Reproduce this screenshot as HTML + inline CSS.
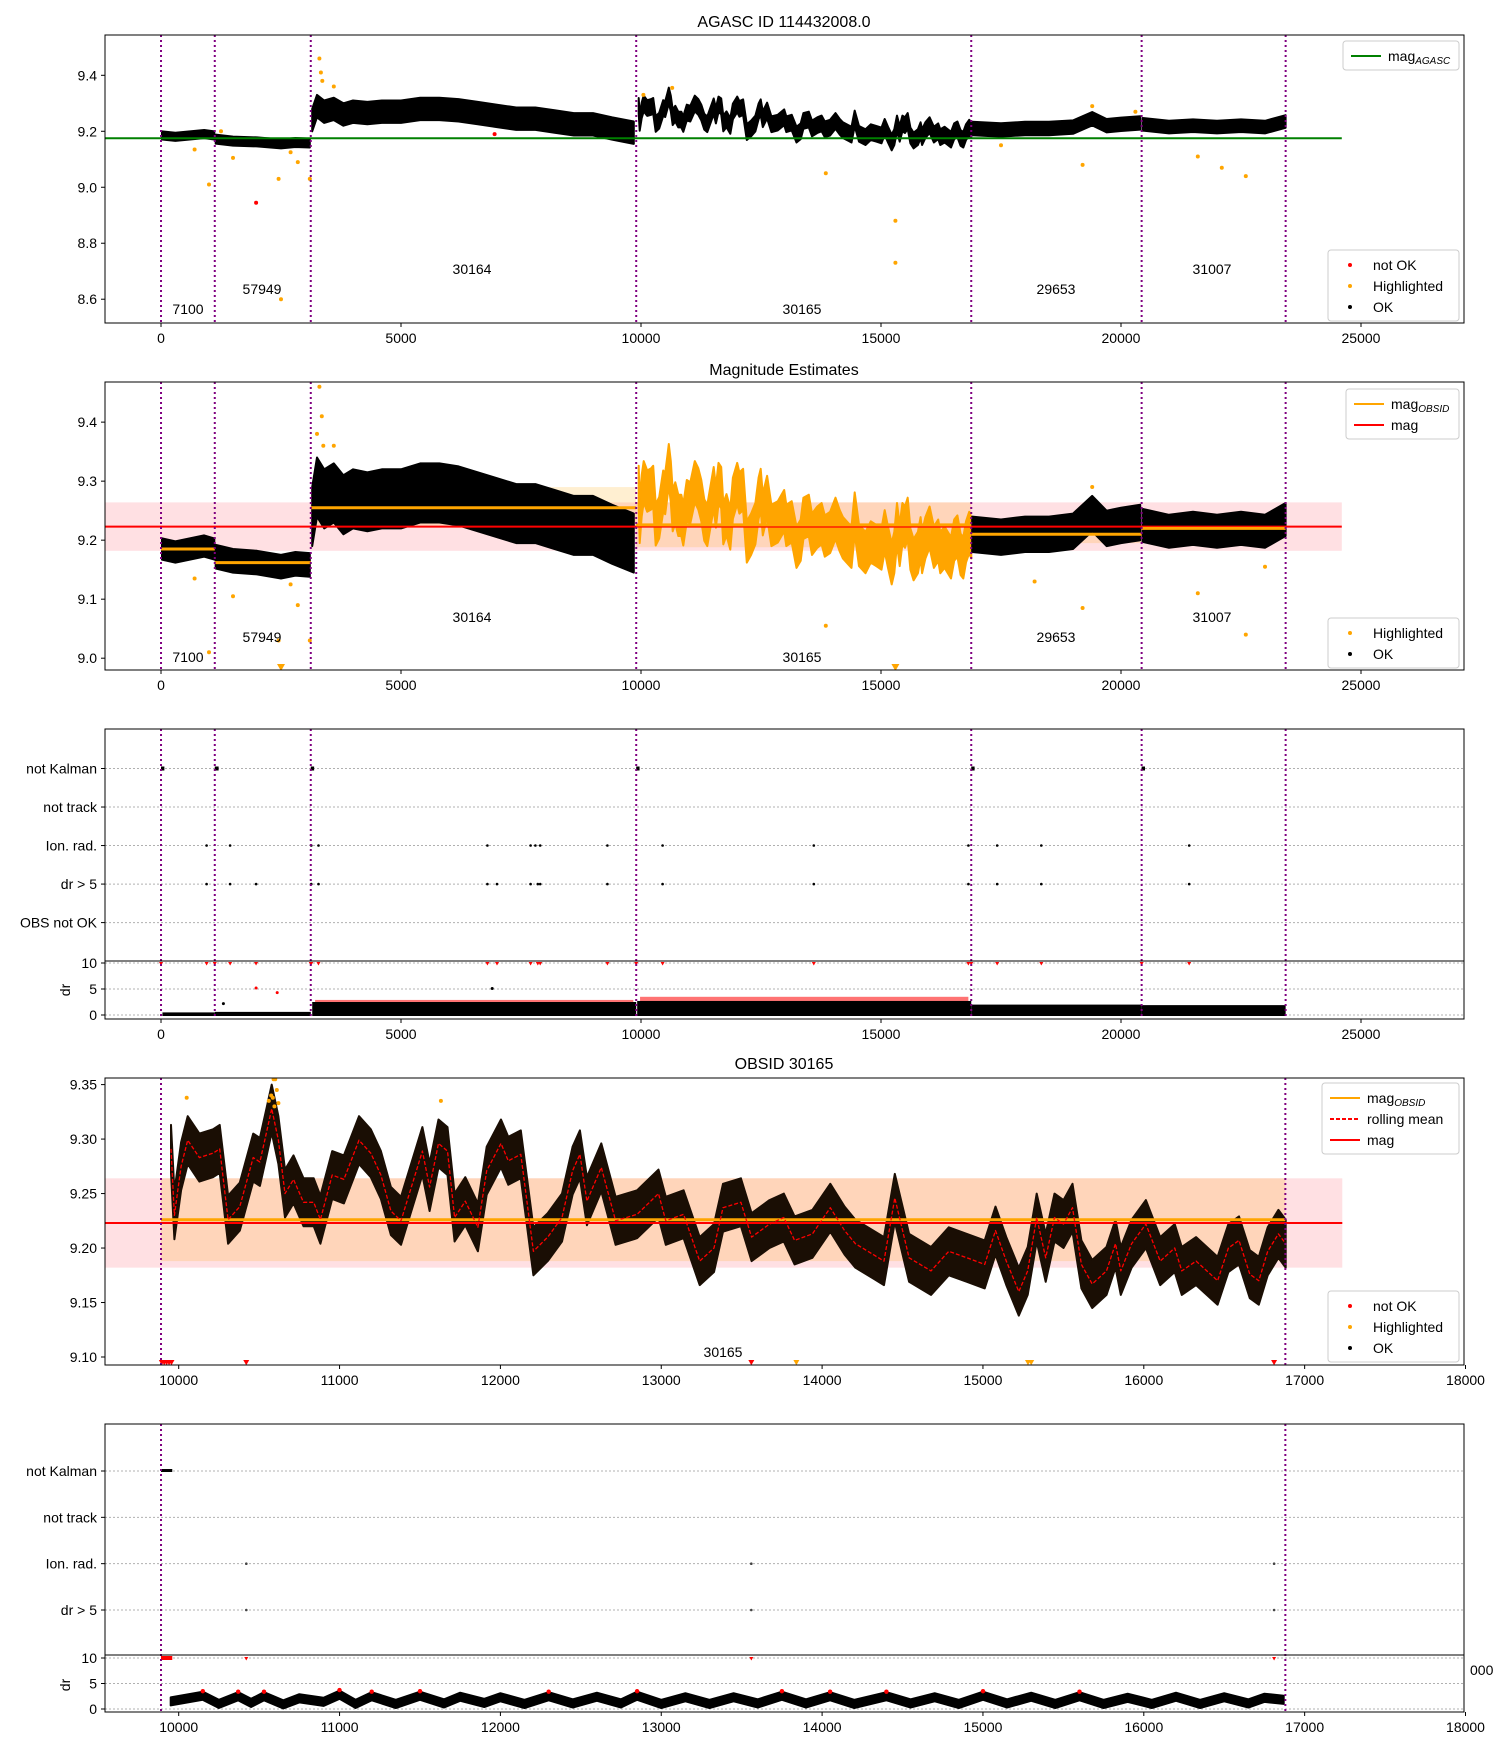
<!DOCTYPE html>
<html><head><meta charset="utf-8"><style>
html,body{margin:0;padding:0;background:#fff;}
svg{display:block;font-family:"Liberation Sans","DejaVu Sans",sans-serif;}
</style></head><body>
<svg id="chart" width="1500" height="1750" viewBox="0 0 1500 1750" xmlns="http://www.w3.org/2000/svg">
<defs>
<clipPath id="c1"><rect x="105" y="35" width="1359" height="288"/></clipPath>
<clipPath id="c2"><rect x="105" y="382" width="1359" height="288"/></clipPath>
<clipPath id="c3"><rect x="105" y="729" width="1359" height="290"/></clipPath>
<clipPath id="c4"><rect x="105" y="1078" width="1359" height="287"/></clipPath>
<clipPath id="c5"><rect x="105" y="1424" width="1359" height="288"/></clipPath>
</defs>
<text x="784" y="27" text-anchor="middle" font-size="16">AGASC ID 114432008.0</text>
<text x="784" y="375" text-anchor="middle" font-size="16">Magnitude Estimates</text>
<text x="784" y="1069" text-anchor="middle" font-size="16">OBSID 30165</text>
<text x="1470" y="1675" font-size="14">000</text>
<g id="layer"></g>
</svg>
<script>
// ---------- data ----------
const obsStart = [0, 1120, 3120, 9900, 16880, 20430, 23430];
const obsNames = ['7100', '57949', '30164', '30165', '29653', '31007'];
const obsMagObsid = [9.185, 9.162, 9.255, 9.226, 9.21, 9.22];
const obsSpread = [0.018, 0.02, 0.05, 0.035, 0.03, 0.028];
const magAgasc = 9.175;
const magMean = 9.223;
const magLo = 9.182;
const magHi = 9.264;

const m7100X = [20, 300, 600, 900, 1110];
const m7100Y = [9.185, 9.18, 9.185, 9.19, 9.185];
const m57949X = [1140, 1500, 2000, 2500, 2800, 3100];
const m57949Y = [9.172, 9.165, 9.162, 9.155, 9.16, 9.158];
const m30164X = [3150, 3250, 3400, 3600, 3800, 4000, 4300, 4600, 5000, 5400, 5800, 6200, 6600, 7000, 7400, 7800, 8200, 8600, 9000, 9400, 9850];
const m30164Y = [9.24, 9.29, 9.27, 9.28, 9.26, 9.27, 9.265, 9.27, 9.27, 9.28, 9.28, 9.275, 9.265, 9.255, 9.245, 9.245, 9.235, 9.225, 9.225, 9.21, 9.195];
const m30165X = [9952,9973,10015,10056,10129,10213,10255,10307,10380,10463,10505,10547,10578,10620,10661,10714,10776,10839,10881,10954,11027,11121,11194,11257,11319,11382,11515,11560,11615,11671,11715,11782,11860,11915,12004,12049,12127,12205,12294,12383,12449,12494,12538,12627,12716,12850,12983,13028,13139,13239,13328,13384,13495,13562,13673,13762,13829,13940,14051,14140,14207,14318,14385,14452,14541,14677,14788,14900,15011,15078,15145,15223,15278,15334,15390,15445,15501,15557,15612,15679,15768,15824,15857,15924,16013,16102,16192,16236,16325,16459,16526,16592,16659,16715,16770,16837,16882];
const m30165Y = [9.291,9.23,9.275,9.299,9.283,9.287,9.291,9.226,9.238,9.283,9.279,9.307,9.328,9.299,9.25,9.263,9.242,9.242,9.226,9.267,9.263,9.299,9.287,9.267,9.234,9.225,9.289,9.256,9.296,9.289,9.228,9.243,9.219,9.271,9.296,9.28,9.286,9.197,9.21,9.228,9.271,9.286,9.243,9.274,9.225,9.231,9.25,9.225,9.231,9.188,9.2,9.237,9.242,9.21,9.222,9.228,9.207,9.213,9.237,9.216,9.204,9.194,9.188,9.246,9.191,9.179,9.197,9.191,9.185,9.216,9.188,9.16,9.179,9.228,9.191,9.228,9.222,9.237,9.185,9.167,9.179,9.204,9.179,9.204,9.222,9.188,9.2,9.179,9.188,9.17,9.2,9.207,9.176,9.17,9.197,9.213,9.204];
const m29653X = [16900, 17500, 18000, 18500, 19000, 19400, 19700, 20000, 20400];
const m29653Y = [9.21, 9.205, 9.21, 9.21, 9.215, 9.245, 9.22, 9.225, 9.23];
const m31007X = [20450, 21000, 21500, 22000, 22500, 23000, 23430];
const m31007Y = [9.225, 9.215, 9.22, 9.215, 9.22, 9.215, 9.235];

const p1OrangeX = [1000, 700, 1500, 2450, 2500, 2700, 2850, 3100, 3300, 3330, 3360, 3600, 13850, 15300, 15300, 19200, 21600, 22100, 22600, 17500, 10650, 10050, 19400, 20300, 1250];
const p1OrangeY = [9.01, 9.135, 9.105, 9.03, 8.6, 9.125, 9.09, 9.03, 9.46, 9.41, 9.38, 9.36, 9.05, 8.88, 8.73, 9.08, 9.11, 9.07, 9.04, 9.15, 9.355, 9.33, 9.29, 9.27, 9.2];
const p1RedX = [1980, 6950];
const p1RedY = [8.945, 9.19];
const p2OrangeX = [1000, 700, 1500, 2450, 2850, 2700, 3100, 13850, 19200, 21600, 22600, 3300, 3350, 3250, 3380, 18200, 23000, 3600, 19400];
const p2OrangeY = [9.01, 9.135, 9.105, 9.03, 9.09, 9.125, 9.03, 9.055, 9.085, 9.11, 9.04, 9.46, 9.41, 9.38, 9.36, 9.13, 9.155, 9.36, 9.29];
const p2TriX = [2500, 15300];

const notKalmanStart = [0, 1120, 3120, 9900, 16880, 20430];
const notKalmanEnd = [70, 1200, 3190, 9970, 16950, 20500];
const ionRadX = [950, 1440, 3130, 3280, 6800, 7700, 7800, 7900, 9300, 10450, 13600, 16820, 17420, 18340, 21420];
const drGt5X = [950, 1440, 1980, 3130, 3280, 6800, 7000, 7700, 7850, 7900, 9300, 10450, 13600, 16820, 17420, 18340, 21420];
const drSegStart = [30, 1120, 3150, 9920, 16880, 20430];
const drSegEnd = [1120, 3120, 9900, 16880, 20430, 23430];
const drSegHi = [0.5, 0.6, 2.5, 2.7, 2.0, 1.9];
const drRedHi = [0, 0, 2.9, 3.5, 0, 0];
const drOutX = [1980, 2420, 6900, 1300];
const drOutY = [5.2, 4.3, 5.1, 2.2];

const p4RedTriX = [9895, 9910, 9925, 9940, 9955, 10420, 13560, 16810];
const p4OrangeTriX = [13840, 15280, 15300];
const p4OrangeX = [10560, 10575, 10590, 10600, 10610, 10620, 10585, 10595, 10050, 11630];
const p4OrangeY = [9.335, 9.34, 9.355, 9.355, 9.345, 9.333, 9.338, 9.33, 9.338, 9.335];

const k5Start = 9890, k5End = 9960;
const ion5X = [10420, 13560, 16810];
const dr5X = [9950,10150,10250,10370,10450,10530,10650,10750,10900,11000,11100,11200,11350,11500,11650,11750,11900,12000,12150,12300,12450,12600,12750,12850,13000,13150,13300,13450,13600,13750,13900,14050,14200,14400,14550,14700,14850,15000,15150,15300,15450,15600,15750,15900,16050,16200,16350,16500,16650,16750,16870];
const dr5Y = [1.5,2.6,1.0,2.5,1.2,2.5,0.9,2.1,1.4,2.8,1.0,2.5,1.0,2.6,1.1,2.4,1.2,2.3,1.0,2.5,1.1,2.4,1.1,2.6,1.0,2.3,1.0,2.3,1.1,2.6,1.1,2.5,1.0,2.5,1.1,2.3,1.0,2.6,1.1,2.4,1.0,2.5,1.0,2.2,1.0,2.4,1.0,2.3,1.1,2.2,1.8];

const xTicks1 = [0, 5000, 10000, 15000, 20000, 25000];
const xTicks4 = [10000, 11000, 12000, 13000, 14000, 15000, 16000, 17000, 18000];
const yTicks1 = [8.6, 8.8, 9.0, 9.2, 9.4];
const yTicks2 = [9.0, 9.1, 9.2, 9.3, 9.4];
const yTicks4 = [9.10, 9.15, 9.20, 9.25, 9.30, 9.35];
const flagLabels3 = ['not Kalman', 'not track', 'Ion. rad.', 'dr > 5', 'OBS not OK'];
const flagLabels5 = ['not Kalman', 'not track', 'Ion. rad.', 'dr > 5'];
const drTicks = [0, 5, 10];

// ---------- helpers ----------
const NS = 'http://www.w3.org/2000/svg';
const root = document.getElementById('layer');
function mk(tag, attrs, parent) {
  const e = document.createElementNS(NS, tag);
  for (const k in attrs) e.setAttribute(k, attrs[k]);
  (parent || root).appendChild(e);
  return e;
}
function lin(d0, d1, r0, r1) { return v => r0 + (v - d0) * (r1 - r0) / (d1 - d0); }
const OR = '#ffa500', PURP = '#800080';

const sx1 = lin(-1167, 27146, 105, 1464);
const sy1 = lin(8.515, 9.544, 323, 35);
const sy2 = lin(8.98, 9.468, 670, 382);
const fy3 = lin(0, 4, 768.5, 922.6);
const dy3 = lin(0, 10, 1015, 963);
const sx4 = lin(10000, 18000, 178.7, 1465.5);
const sy4 = lin(9.10, 9.35, 1357, 1084.6);
const fy5 = lin(0, 3, 1471, 1610);
const dy5 = lin(0, 10, 1709, 1658);

function group(clip, name) {
  const g = mk('g', clip ? {'clip-path': 'url(#' + clip + ')'} : {});
  
  
  return g;
}
function line(xs, ys, sx, sy, w, color, g, name) {
  const pts = xs.map((x, i) => sx(x).toFixed(1) + ',' + sy(ys[i]).toFixed(1)).join(' ');
  const p = mk('polyline', {points: pts, fill: 'none', stroke: color, 'stroke-width': w, 'stroke-linejoin': 'round'}, g);
  
  
  return p;
}
function envelope(xs, ys, s, sx, sy, color, g, name) {
  const up = xs.map((x, i) => sx(x).toFixed(1) + ',' + sy(ys[i] + s).toFixed(1));
  const dn = xs.map((x, i) => sx(x).toFixed(1) + ',' + sy(ys[i] - s).toFixed(1)).reverse();
  const p = mk('polygon', {points: up.concat(dn).join(' '), fill: color, stroke: color, 'stroke-width': 2, 'stroke-linejoin': 'round'}, g);
  
  
  return p;
}
function dot(x, y, r, color, g, name) {
  const c = mk('circle', {cx: x.toFixed(1), cy: y.toFixed(1), r: r, fill: color}, g);
  
  
}
function tri(x, y, color, g, name, s) {
  s = s || 4;
  const p = mk('path', {d: `M${x-s},${y-s} L${x+s},${y-s} L${x},${y+s*0.75} Z`, fill: color}, g);
  
  
}
function hline(x0, x1, y, color, w, g, name) {
  const l = mk('line', {x1: x0, x2: x1, y1: y, y2: y, stroke: color, 'stroke-width': w}, g);
  
  
}
function vlines(xs, sx, y0, y1, g) {
  xs.forEach(x => {
    const l = mk('line', {x1: sx(x), x2: sx(x), y1: y0, y2: y1, stroke: PURP, 'stroke-width': 2, 'stroke-dasharray': '2,3'}, g);
    
    
  });
}
function frame(x, y, w, h, name) {
  const r = mk('rect', {x: x, y: y, width: w, height: h, fill: 'none', stroke: '#000', 'stroke-width': 1});
  
  
}
function xAxis(ticks, sx, y, name) {
  const g = group(null, name);
  ticks.forEach(t => {
    mk('line', {x1: sx(t), x2: sx(t), y1: y, y2: y + 4, stroke: '#000'}, g);
    const tx = mk('text', {x: sx(t), y: y + 20, 'text-anchor': 'middle', 'font-size': 14}, g);
    tx.textContent = String(t);
    
    
  });
}
function yAxis(ticks, sy, labels, name, grid, dec) {
  const g = group(null, name);
  ticks.forEach((t, i) => {
    const y = sy(typeof t === 'number' ? t : i);
    mk('line', {x1: 101, x2: 105, y1: y, y2: y, stroke: '#000'}, g);
    if (grid) mk('line', {x1: 105, x2: 1464, y1: y, y2: y, stroke: '#b0b0b0', 'stroke-dasharray': '2,2', 'stroke-width': 1}, g);
    const tx = mk('text', {x: 97, y: y + 5, 'text-anchor': 'end', 'font-size': 14}, g);
    tx.textContent = labels ? labels[i] : t.toFixed(dec);
    
    
  });
}
function obsLabels(ys, g) {
  const pos = [[188, 0], [262, 1], [472, 2], [802, 0], [1056, 1], [1212, 2]];
  obsNames.forEach((n, i) => {
    const t = mk('text', {x: pos[i][0], y: ys[pos[i][1]], 'text-anchor': 'middle', 'font-size': 14}, g);
    t.textContent = n;
    
    
  });
}
const series = [[m7100X, m7100Y], [m57949X, m57949Y], [m30164X, m30164Y], [m30165X, m30165Y], [m29653X, m29653Y], [m31007X, m31007Y]];

// ---------- panel 1 ----------
{
  const g = group('c1', 'panel-agasc-plot');
  series.forEach((s, i) => envelope(s[0], s[1], obsSpread[i] * 0.8, sx1, sy1, '#000', g, 'ok-points-' + obsNames[i]));
  hline(105, sx1(24600), sy1(magAgasc), '#008000', 2, g, 'mag-agasc-line');
  p1OrangeX.forEach((x, i) => dot(sx1(x), sy1(p1OrangeY[i]), 2, OR, g, 'highlighted-point'));
  p1RedX.forEach((x, i) => dot(sx1(x), sy1(p1RedY[i]), 2, '#f00', g, 'not-ok-point'));
  vlines(obsStart, sx1, 35, 323, g);
  obsLabels([314, 294, 274], g);
  frame(105, 35, 1359, 288, 'panel-1-frame');
  xAxis(xTicks1, sx1, 323, 'x-axis-panel-1');
  yAxis(yTicks1, sy1, null, 'y-axis-panel-1', false, 1);
}
// ---------- panel 2 ----------
{
  const g = group('c2', 'panel-magnitude-estimates');
  const r = mk('rect', {x: 105, y: sy2(magHi), width: sx1(24600) - 105, height: sy2(magLo) - sy2(magHi), fill: '#ffe0e3'}, g);
  
  
  const bLo = [9.17, 9.15, 9.225, 9.188, 9.195, 9.205], bHi = [9.2, 9.175, 9.29, 9.264, 9.225, 9.235];
  obsNames.forEach((n, i) => {
    const b = mk('rect', {x: sx1(obsStart[i]), y: sy2(bHi[i]), width: sx1(obsStart[i + 1]) - sx1(obsStart[i]), height: sy2(bLo[i]) - sy2(bHi[i]), fill: 'rgba(255,165,0,0.18)'}, g);
    
    
  });
  series.forEach((s, i) => envelope(s[0], s[1], obsSpread[i], sx1, sy2, i === 3 ? OR : '#000', g, 'points-' + obsNames[i]));
  hline(105, sx1(24600), sy2(magMean), '#f00', 2, g, 'mag-line');
  obsNames.forEach((n, i) => hline(sx1(obsStart[i]), sx1(obsStart[i + 1]), sy2(obsMagObsid[i]), OR, 3, g, 'mag-obsid-' + n));
  p2OrangeX.forEach((x, i) => dot(sx1(x), sy2(p2OrangeY[i]), 2, OR, g, 'highlighted-point'));
  p2TriX.forEach(x => tri(sx1(x), 668, OR, g, 'out-of-range-marker'));
  vlines(obsStart, sx1, 382, 670, g);
  obsLabels([662, 642, 622], g);
  frame(105, 382, 1359, 288, 'panel-2-frame');
  xAxis(xTicks1, sx1, 670, 'x-axis-panel-2');
  yAxis(yTicks2, sy2, null, 'y-axis-panel-2', false, 1);
}
// ---------- panel 3 ----------
{
  yAxis(flagLabels3, fy3, flagLabels3, 'flag-axis-panel-3', true);
  yAxis(drTicks, dy3, null, 'dr-axis-panel-3', true, 0);
  const g = group('c3', 'panel-flags');
  notKalmanStart.forEach((s, i) => {
    const r = mk('rect', {x: sx1(s), y: fy3(0) - 2, width: Math.max(3, sx1(notKalmanEnd[i]) - sx1(s)), height: 4, fill: '#000'}, g);
    
    
  });
  ionRadX.forEach(x => dot(sx1(x), fy3(2), 1.3, '#000', g, 'ion-rad-flag'));
  drGt5X.forEach(x => dot(sx1(x), fy3(3), 1.3, '#000', g, 'dr-gt-5-flag'));
  drSegStart.forEach((s, i) => {
    if (drRedHi[i] > 0) {
      const rr = mk('rect', {x: sx1(s + 60), y: dy3(drRedHi[i]), width: sx1(drSegEnd[i] - 60) - sx1(s + 60), height: dy3(drSegHi[i]) - dy3(drRedHi[i]) + 1, fill: 'rgba(255,0,0,0.55)'}, g);
      
      
    }
    const r = mk('rect', {x: sx1(s), y: dy3(drSegHi[i]), width: sx1(drSegEnd[i]) - sx1(s), height: dy3(0) - dy3(drSegHi[i]) + 1, fill: '#000'}, g);
    
    
  });
  drOutX.forEach((x, i) => dot(sx1(x), dy3(drOutY[i]), 1.5, i < 2 ? '#f00' : '#000', g, 'dr-outlier'));
  drGt5X.concat(notKalmanStart).forEach(x => tri(sx1(x), dy3(10) + 1, '#f00', g, 'dr-clipped-marker', 2));
  vlines(obsStart, sx1, 729, 1019, g);
  frame(105, 729, 1359, 232, 'panel-3-frame');
  frame(105, 961, 1359, 58, 'dr-subpanel-3-frame');
  xAxis(xTicks1, sx1, 1019, 'x-axis-panel-3');
  const t = mk('text', {x: 0, y: 0, 'font-size': 14, 'text-anchor': 'middle', transform: 'translate(70,990) rotate(-90)'});
  t.textContent = 'dr';
  
  
}
// ---------- panel 4 ----------
{
  const g = group('c4', 'panel-obsid-30165');
  const r = mk('rect', {x: 105, y: sy4(magHi), width: sx4(17234) - 105, height: sy4(magLo) - sy4(magHi), fill: '#ffe0e3'}, g);
  
  
  const o = mk('rect', {x: sx4(9890), y: sy4(magHi), width: sx4(16880) - sx4(9890), height: sy4(9.188) - sy4(magHi), fill: 'rgba(255,165,0,0.18)'}, g);
  
  
  envelope(m30165X, m30165Y, 0.022, sx4, sy4, '#1a0e04', g, 'ok-points');
  hline(105, sx4(17234), sy4(magMean), '#f00', 2, g, 'mag-line');
  hline(sx4(9890), sx4(16880), sy4(obsMagObsid[3]), OR, 3, g, 'mag-obsid-line');
  const rm = line(m30165X, m30165Y, sx4, sy4, 1.3, '#f00', g, 'rolling-mean-line');
  rm.setAttribute('stroke-dasharray', '4,2');
  p4OrangeX.forEach((x, i) => dot(sx4(x), sy4(p4OrangeY[i]), 2, OR, g, 'highlighted-point'));
  p4RedTriX.forEach(x => tri(sx4(x), 1363, '#f00', g, 'not-ok-marker', 3));
  p4OrangeTriX.forEach(x => tri(sx4(x), 1363, OR, g, 'highlighted-marker', 3));
  vlines([9890, 16880], sx4, 1078, 1365, g);
  const t = mk('text', {x: 723, y: 1357, 'text-anchor': 'middle', 'font-size': 14}, g);
  t.textContent = '30165';
  
  
  frame(105, 1078, 1359, 287, 'panel-4-frame');
  xAxis(xTicks4, sx4, 1365, 'x-axis-panel-4');
  yAxis(yTicks4, sy4, null, 'y-axis-panel-4', false, 2);
}
// ---------- panel 5 ----------
{
  yAxis(flagLabels5, fy5, flagLabels5, 'flag-axis-panel-5', true);
  yAxis(drTicks, dy5, null, 'dr-axis-panel-5', true, 0);
  const g = group('c5', 'panel-flags-obsid');
  const k = mk('rect', {x: sx4(k5Start), y: fy5(0) - 2, width: sx4(k5End) - sx4(k5Start), height: 3, fill: '#000'}, g);
  
  
  ion5X.forEach(x => dot(sx4(x), fy5(2), 1.3, '#444', g, 'ion-rad-flag'));
  ion5X.forEach(x => dot(sx4(x), fy5(3), 1.3, '#444', g, 'dr-gt-5-flag'));
  envelope(dr5X, dr5Y, 0.8, sx4, dy5, '#000', g, 'dr-points');
  dr5X.forEach((x, i) => { if (dr5Y[i] >= 2.5) dot(sx4(x), dy5(dr5Y[i] + 0.9), 2.2, '#f00', g, 'dr-high-point'); });
  const kr = mk('rect', {x: sx4(k5Start), y: dy5(10) - 2, width: sx4(k5End) - sx4(k5Start), height: 4, fill: '#f00'}, g);
  
  
  ion5X.forEach(x => tri(sx4(x), dy5(10) + 1, '#f00', g, 'dr-clipped-marker', 2));
  vlines([9890, 16880], sx4, 1424, 1712, g);
  frame(105, 1424, 1359, 231, 'panel-5-frame');
  frame(105, 1655, 1359, 57, 'dr-subpanel-5-frame');
  xAxis(xTicks4, sx4, 1712, 'x-axis-panel-5');
  const t = mk('text', {x: 0, y: 0, 'font-size': 14, 'text-anchor': 'middle', transform: 'translate(70,1685) rotate(-90)'});
  t.textContent = 'dr';
  
  
}
// ---------- legends ----------
function legend(x, y, w, entries, name) {
  const g = group(null, name);
  mk('rect', {x: x, y: y, width: w, height: entries.length * 21 + 8, rx: 3, fill: 'rgba(255,255,255,0.85)', stroke: '#ccc'}, g);
  entries.forEach((e, i) => {
    const cy = y + 15 + i * 21;
    if (e.type === 'dot') mk('circle', {cx: x + 22, cy: cy, r: 2, fill: e.color}, g);
    else {
      const l = mk('line', {x1: x + 8, x2: x + 38, y1: cy, y2: cy, stroke: e.color, 'stroke-width': 2}, g);
      if (e.type === 'dash') l.setAttribute('stroke-dasharray', '4,2');
    }
    const t = mk('text', {x: x + 45, y: cy + 5, 'font-size': 14}, g);
    t.textContent = e.label;
    if (e.sub) { const s = mk('tspan', {'font-size': 10, 'font-style': 'italic', dy: 3}, t); s.textContent = e.sub; }
    
    
  });
}
legend(1343, 41, 116, [{type: 'line', color: '#008000', label: 'mag', sub: 'AGASC'}], 'legend-agasc');
legend(1328, 250, 131, [{type: 'dot', color: '#f00', label: 'not OK'}, {type: 'dot', color: OR, label: 'Highlighted'}, {type: 'dot', color: '#000', label: 'OK'}], 'legend-status-1');
legend(1346, 389, 113, [{type: 'line', color: OR, label: 'mag', sub: 'OBSID'}, {type: 'line', color: '#f00', label: 'mag'}], 'legend-mag-2');
legend(1328, 618, 131, [{type: 'dot', color: OR, label: 'Highlighted'}, {type: 'dot', color: '#000', label: 'OK'}], 'legend-status-2');
legend(1322, 1083, 137, [{type: 'line', color: OR, label: 'mag', sub: 'OBSID'}, {type: 'dash', color: '#f00', label: 'rolling mean'}, {type: 'line', color: '#f00', label: 'mag'}], 'legend-mag-4');
legend(1328, 1291, 131, [{type: 'dot', color: '#f00', label: 'not OK'}, {type: 'dot', color: OR, label: 'Highlighted'}, {type: 'dot', color: '#000', label: 'OK'}], 'legend-status-4');
</script>
</body></html>
